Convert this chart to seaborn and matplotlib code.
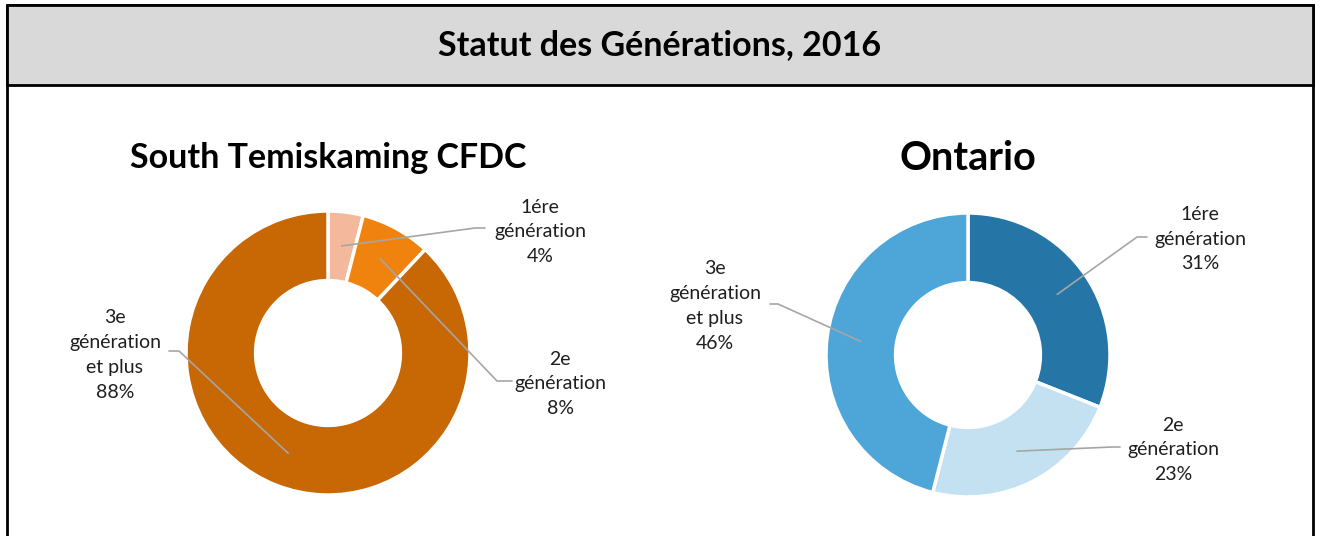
import numpy as np
import seaborn as sns
import matplotlib.pyplot as plt
from matplotlib.patches import Rectangle

# data
categories = ['1ére\ngénération', '2e\ngénération', '3e\ngénération\net plus']
temiskaming = [4, 8, 88]
ontario = [31, 23, 46]
temiskaming_colors = ['#F4B99D', '#F0820E', '#C76805']
ontario_colors = ['#2675A7', '#C3E1F1', '#4EA6D8']
chart_title = 'Statut des Générations, 2016'
panel_titles = ['South Temiskaming CFDC', 'Ontario']

sns.set_style('white')
plt.rcParams['font.family'] = ['Lato', 'DejaVu Sans']

W, H = 1320, 536
fig = plt.figure(figsize=(W / 100, H / 100), dpi=100)

R = 142  # donut outer radius in pixels
panels = [
    # center, values, colors, text centers, leader elbows/ends, title size
    dict(center=(328, 353), values=temiskaming, colors=temiskaming_colors,
         text=[(540, 232), (560, 384), (115, 355)],
         leader=[[(475, 228), (485, 228)], [(497, 381), (512, 381)], [(179, 351), (169, 351)]],
         tsize=24.5),
    dict(center=(968, 355), values=ontario, colors=ontario_colors,
         text=[(1200, 239), (1173, 450), (715, 306)],
         leader=[[(1137, 237), (1147, 237)], [(1112, 447), (1120, 447)], [(778, 304), (770, 304)]],
         tsize=28.5),
]

for p in panels:
    cx, cy = p['center']
    ax = fig.add_axes([(cx - R) / W, (H - cy - R) / H, 2 * R / W, 2 * R / H])
    ax.pie(p['values'], colors=p['colors'], startangle=90, counterclock=False,
           radius=1, wedgeprops=dict(width=0.49, edgecolor='white', linewidth=2.5))
    ax.set_xlim(-1, 1)
    ax.set_ylim(-1, 1)
    ax.axis('off')

# overlay in pixel coordinates
ov = fig.add_axes([0, 0, 1, 1], facecolor='none')
ov.set_xlim(0, W)
ov.set_ylim(H, 0)
ov.axis('off')

ov.add_patch(Rectangle((7, 5), 1306, 600, fill=False, edgecolor='black', linewidth=2, clip_on=False))
ov.add_patch(Rectangle((7, 5), 1306, 80, facecolor='#D9D9D9', edgecolor='black', linewidth=2))
ov.text(660, 45, chart_title, ha='center', va='center', fontsize=24.5, fontweight='bold', color='black')

for p, title in zip(panels, panel_titles):
    cx, cy = p['center']
    ov.text(cx, 158, title, ha='center', va='center', fontsize=p['tsize'], fontweight='bold', color='black')
    total = sum(p['values'])
    start = 0
    for cat, v, tpos, lpath in zip(categories, p['values'], p['text'], p['leader']):
        mid = np.deg2rad(90 - (start + v / 2) / total * 360)
        start += v
        ax_x = cx + 0.76 * R * np.cos(mid)
        ax_y = cy - 0.76 * R * np.sin(mid)
        xs = [ax_x] + [pt[0] for pt in lpath]
        ys = [ax_y] + [pt[1] for pt in lpath]
        ov.plot(xs, ys, color='#A6A6A6', linewidth=1.2)
        ov.text(tpos[0], tpos[1], f'{cat}\n{v}%', ha='center', va='center',
                fontsize=14, color='#1F1F1F', linespacing=1.55)

fig.savefig('out.png', dpi=100)
